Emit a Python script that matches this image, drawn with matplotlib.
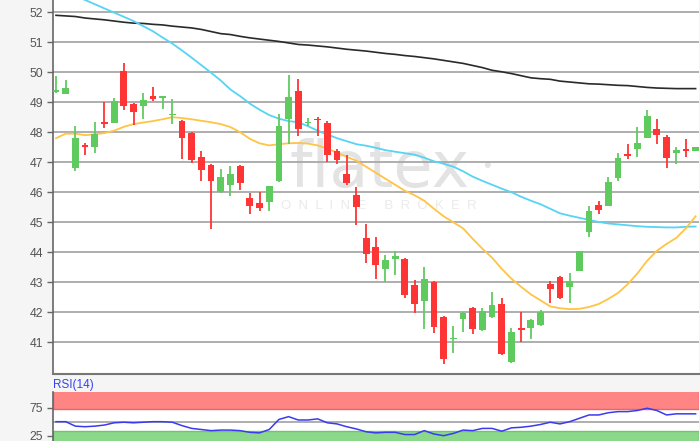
import numpy as np
import matplotlib
matplotlib.use("Agg")
import matplotlib.pyplot as plt

# OHLC, one candle per trading day
opens = [49.33, 49.28, 46.80, 47.56, 47.50, 48.33, 48.32, 50.03, 48.95, 48.88,
         49.21, 49.15, 48.58, 48.37, 47.98, 47.18, 46.92, 46.00, 46.25, 46.87,
         45.80, 45.64, 45.67, 46.37, 48.44, 49.37, 48.29, 48.44, 48.29, 47.36,
         46.60, 45.92, 44.48, 44.18, 43.46, 43.77, 43.79, 42.92, 42.38, 43.02,
         41.84, 41.10, 41.77, 42.14, 41.41, 41.86, 42.27, 40.35, 41.47, 41.47,
         41.57, 42.93, 43.19, 42.83, 43.39, 44.67, 45.56, 45.55, 46.48, 47.27,
         47.45, 47.81, 48.12, 47.83, 47.32, 47.43, 47.37]
highs = [49.86, 49.73, 48.22, 47.65, 48.34, 48.99, 49.15, 50.30, 48.98, 49.29,
         49.52, 49.19, 49.12, 48.40, 48.00, 47.37, 46.95, 46.76, 46.87, 46.90,
         45.97, 46.00, 46.22, 48.59, 49.91, 49.76, 48.48, 48.50, 48.37, 47.45,
         47.23, 46.17, 44.94, 44.52, 43.92, 44.05, 43.80, 43.08, 43.52, 43.03,
         41.89, 41.55, 42.00, 42.17, 42.14, 42.69, 42.49, 41.49, 42.02, 41.77,
         42.07, 43.05, 43.20, 43.31, 44.06, 45.55, 45.70, 46.52, 47.30, 47.62,
         48.17, 48.73, 48.43, 47.90, 47.50, 47.77, 47.51]
lows = [49.29, 49.27, 46.70, 47.23, 47.30, 48.14, 48.31, 48.73, 48.23, 48.45,
        49.05, 48.78, 48.27, 47.10, 46.98, 46.36, 44.78, 45.98, 45.86, 46.08,
        45.28, 45.39, 45.39, 46.35, 47.61, 47.86, 48.19, 47.86, 47.00, 46.95,
        46.25, 44.92, 43.66, 43.11, 43.02, 43.25, 42.49, 41.99, 41.44, 41.33,
        40.29, 40.66, 41.36, 41.27, 41.38, 41.83, 40.57, 40.33, 41.02, 41.10,
        41.55, 42.30, 42.46, 42.30, 43.38, 44.50, 45.26, 45.53, 46.39, 47.11,
        47.19, 47.80, 47.62, 46.80, 46.95, 47.19, 47.36]
closes = [49.42, 49.46, 47.82, 47.49, 47.95, 48.27, 49.03, 48.86, 48.66, 49.08,
          49.09, 49.17, 48.62, 47.80, 47.06, 46.75, 46.37, 46.52, 46.62, 46.30,
          45.54, 45.49, 46.21, 48.20, 49.17, 48.09, 48.32, 48.41, 47.23, 47.06,
          46.31, 45.50, 43.94, 43.59, 43.74, 43.88, 42.58, 42.29, 43.10, 41.52,
          40.44, 41.15, 41.99, 41.44, 42.05, 42.24, 40.62, 41.36, 41.44, 41.75,
          42.00, 42.77, 42.49, 43.05, 44.05, 45.36, 45.41, 46.33, 47.15, 47.22,
          47.65, 48.53, 47.89, 47.15, 47.42, 47.39, 47.50]

# moving averages
ma_long = [51.89, 51.87, 51.85, 51.80, 51.77, 51.74, 51.70, 51.66, 51.63, 51.62,
           51.59, 51.57, 51.53, 51.50, 51.47, 51.42, 51.35, 51.28, 51.25, 51.19,
           51.14, 51.10, 51.06, 51.02, 50.97, 50.92, 50.90, 50.87, 50.84, 50.80,
           50.76, 50.73, 50.70, 50.66, 50.62, 50.59, 50.55, 50.52, 50.48, 50.44,
           50.39, 50.34, 50.29, 50.22, 50.15, 50.06, 50.01, 49.95, 49.88, 49.81,
           49.78, 49.76, 49.70, 49.67, 49.64, 49.61, 49.60, 49.58, 49.56, 49.55,
           49.52, 49.49, 49.47, 49.46, 49.45, 49.45, 49.45]
ma_mid = [52.85, 52.68, 52.53, 52.40, 52.26, 52.12, 51.98, 51.84, 51.70, 51.53,
          51.36, 51.15, 50.95, 50.72, 50.48, 50.23, 49.98, 49.72, 49.42, 49.20,
          48.95, 48.75, 48.57, 48.45, 48.37, 48.33, 48.20, 48.05, 47.92, 47.80,
          47.70, 47.60, 47.55, 47.48, 47.40, 47.35, 47.30, 47.25, 47.15, 47.03,
          46.95, 46.85, 46.70, 46.52, 46.38, 46.25, 46.12, 46.00, 45.85, 45.72,
          45.60, 45.45, 45.30, 45.22, 45.15, 45.08, 45.01, 44.96, 44.93, 44.90,
          44.87, 44.85, 44.84, 44.83, 44.83, 44.85, 44.86]
ma_short = [47.80, 47.95, 47.95, 47.90, 47.93, 47.97, 48.05, 48.18, 48.27, 48.32,
            48.37, 48.43, 48.50, 48.47, 48.43, 48.38, 48.33, 48.27, 48.17, 48.00,
            47.78, 47.63, 47.56, 47.60, 47.63, 47.64, 47.62, 47.56, 47.45, 47.32,
            47.18, 47.05, 46.85, 46.65, 46.45, 46.25, 46.05, 45.90, 45.72, 45.45,
            45.20, 45.00, 44.80, 44.45, 44.12, 43.82, 43.45, 43.12, 42.85, 42.60,
            42.40, 42.20, 42.14, 42.11, 42.12, 42.18, 42.28, 42.45, 42.65, 42.94,
            43.30, 43.72, 44.05, 44.28, 44.48, 44.80, 45.20]

rsi = [50, 50, 42, 41, 42, 44, 48, 49, 48, 49,
       50, 50, 49, 43, 38, 36, 34, 35, 35, 34,
       31, 30, 36, 54, 59, 53, 53, 55, 48, 46,
       41, 37, 32, 30, 31, 31, 27, 27, 34, 28,
       25, 29, 35, 34, 38, 38, 33, 39, 40, 42,
       45, 49, 46, 50, 56, 62, 62, 66, 68, 68,
       70, 74, 70, 62, 64, 64, 64]

price_ticks = [41, 42, 43, 44, 45, 46, 47, 48, 49, 50, 51, 52]
rsi_ticks = [25, 75]

plt.rcParams['font.family'] = ['Liberation Sans', 'DejaVu Sans']

x = np.arange(len(opens))
o = np.array(opens)
c = np.array(closes)
up = c >= o
col = np.where(up, '#5fcb5f', '#ff3434')
body = np.where(np.abs(c - o) < 0.04, np.where(up, 0.04, -0.04), c - o)

fig = plt.figure(figsize=(7, 4.41), dpi=100, facecolor='#f5f5f5')
ax = fig.add_axes([53 / 700, 1 - 374 / 441, 646 / 700, 374 / 441])
ax.set_facecolor('white')

# watermark
ax.text(0.505, 0.548, 'flatex', transform=ax.transAxes, fontsize=46,
        color='#e3e3e3', ha='center', va='center',
        family='DejaVu Sans', zorder=0)
ax.text(0.672, 0.555, '•', transform=ax.transAxes, fontsize=16,
        color='#e3e3e3', ha='center', va='center', zorder=0)
ax.text(0.505, 0.449, 'O  N  L  I  N  E     B  R  O  K  E  R',
        transform=ax.transAxes, fontsize=9.5, color='#ebebeb',
        ha='center', va='center', zorder=0)

ax.plot(x, ma_long, color='#2a2a2a', lw=1.2, zorder=2)
ax.plot(x, ma_mid, color='#55d4f4', lw=1.3, zorder=2)
ax.plot(x, ma_short, color='#ffc445', lw=1.3, zorder=2)

ax.vlines(x, lows, highs, color=col, lw=1.3, zorder=3)
ax.bar(x, body, bottom=o, width=0.7, color=col, zorder=4)

ax.set_xlim(-0.31, 66.35)
ax.set_ylim(39.95, 52.4)
ax.set_yticks(price_ticks)
ax.set_xticks([])
ax.grid(axis='y', color='#a8a8a8', lw=1.3, zorder=1)
ax.tick_params(axis='y', length=4, width=1, color='#666666', labelsize=8.8,
               labelcolor='#555555', pad=3)
for s in ['top', 'right']:
    ax.spines[s].set_visible(False)
ax.spines['left'].set_color('#666666')
ax.spines['left'].set_linewidth(1.2)
ax.spines['bottom'].set_color('#777777')
ax.spines['bottom'].set_linewidth(1.5)

# RSI panel
ax2 = fig.add_axes([53 / 700, 0, 646 / 700, 49 / 441])
ax2.set_facecolor('white')
ax2.axhspan(73, 110, facecolor='#ff8585', edgecolor='#e06a6a', lw=1.0, zorder=1)
ax2.axhspan(0, 33.5, facecolor='#8bd88b', edgecolor='#6cc66c', lw=1.0, zorder=1)
ax2.axhline(50, color='#a8a8a8', lw=1.3, zorder=1)
ax2.plot(x, rsi, color='#3a3af0', lw=1.1, zorder=3)
ax2.set_xlim(-0.31, 66.35)
ax2.set_ylim(15.5, 103)
ax2.set_yticks(rsi_ticks)
ax2.set_xticks([])
ax2.tick_params(axis='y', length=4, width=1, color='#666666', labelsize=8.8,
                labelcolor='#555555', pad=3)
for s in ['top', 'right', 'bottom']:
    ax2.spines[s].set_visible(False)
ax2.spines['left'].set_color('#666666')
ax2.spines['left'].set_linewidth(1.2)

fig.text(53 / 700, 1 - 385 / 441, 'RSI(14)', color='#3344ee', fontsize=8.5,
         ha='left', va='center')

fig.savefig('out.png', dpi=100, facecolor=fig.get_facecolor())
